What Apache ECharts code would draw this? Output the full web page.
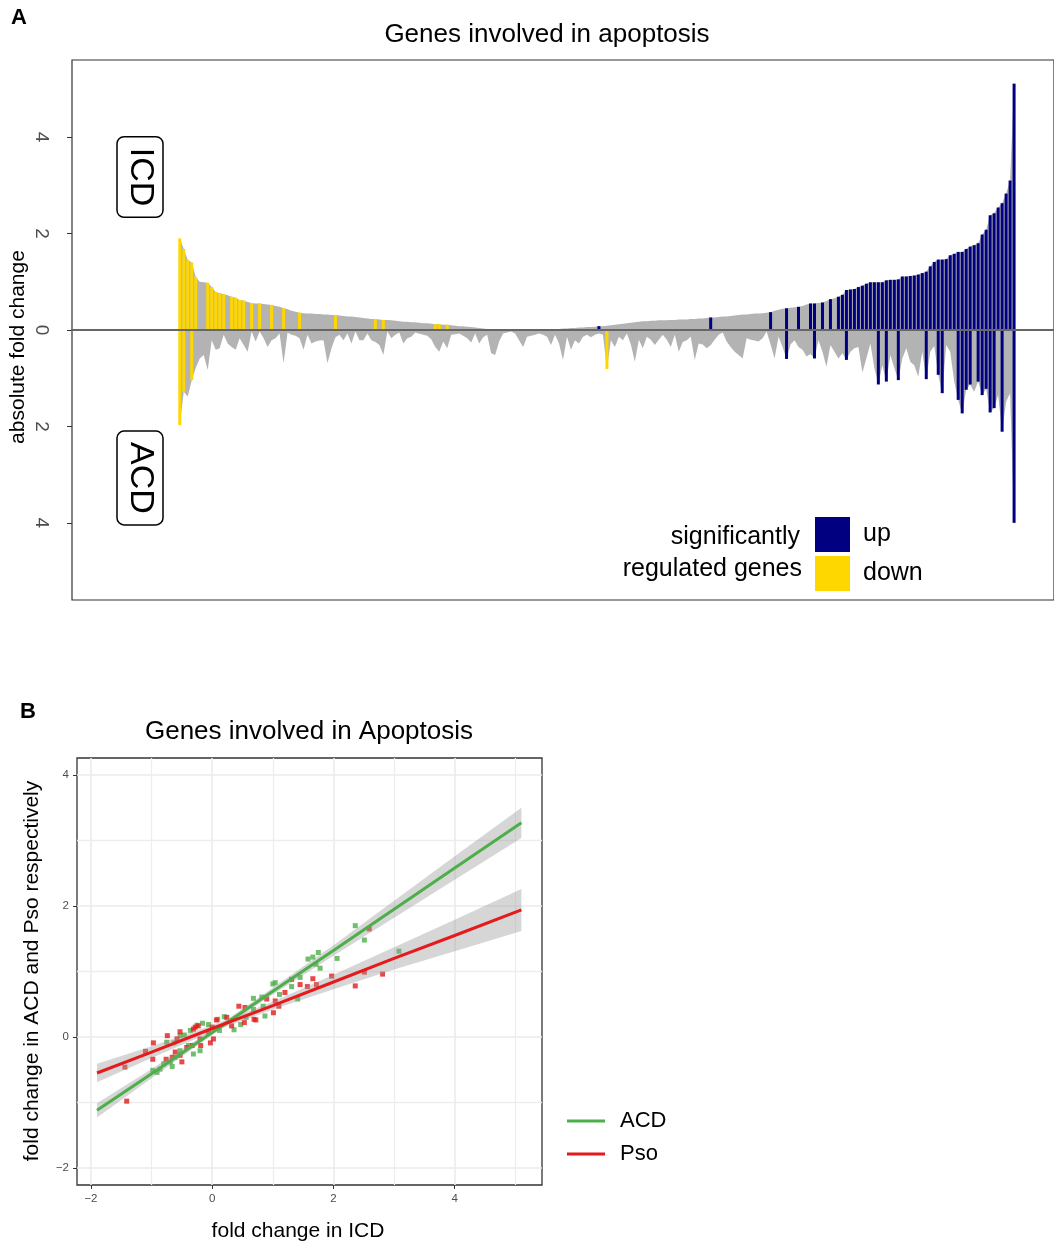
<!DOCTYPE html>
<html>
<head>
<meta charset="utf-8">
<script src="https://cdn.jsdelivr.net/npm/echarts@6/dist/echarts.min.js"></script>
<style>
  html, body { margin: 0; padding: 0; background: #fff; }
  #chart { width: 1054px; height: 1246px; }
</style>
</head>
<body>
<div id="chart"></div>
<script>
// ---- panel A : genes ordered by ICD fold change (absolute values shown) ----
var icdAbs = [
  1.90,1.68,1.45,1.40,1.10,1.00,0.99,0.98,0.89,0.79,
  0.76,0.74,0.72,0.69,0.67,0.62,0.61,0.58,0.56,0.55,
  0.55,0.54,0.53,0.52,0.50,0.48,0.45,0.43,0.40,0.38,
  0.36,0.35,0.34,0.34,0.33,0.33,0.32,0.32,0.31,0.31,
  0.30,0.29,0.28,0.28,0.27,0.26,0.25,0.24,0.23,0.23,
  0.22,0.21,0.21,0.20,0.19,
  0.18,0.17,0.17,0.16,0.16,0.15,0.14,0.14,0.13,0.12,
  0.12,0.11,0.11,0.10,0.09,0.08,0.08,0.07,0.06,0.05,
  0.04,0.03,0.02,0.02,0.01,0.01,0.01,0.01,0.01,0.01,
  0.01,0.01,0.00,0.00,0.02,0.01,0.01,0.01,0.02,0.02,
  0.02,0.03,0.03,0.04,0.04,0.05,0.05,0.06,0.06,0.07,
  0.08,0.08,0.09,0.10,0.11,0.12,0.13,
  0.14,0.15,0.16,0.17,0.18,0.18,0.19,0.19,0.20,0.20,
  0.20,0.21,0.21,0.22,0.22,0.22,0.23,0.23,0.24,0.24,
  0.25,0.26,0.26,0.27,0.28,0.28,0.29,0.30,0.31,0.32,
  0.32,0.33,0.34,0.34,0.35,0.36,0.37,0.40,0.42,0.44,
  0.45,0.46,0.47,0.48,0.50,0.53,0.55,0.55,0.56,0.57,
  0.60,0.64,0.66,0.69,0.73,
  0.83,0.84,0.85,0.89,0.92,0.96,0.99,0.99,0.99,0.99,
  1.03,1.04,1.04,1.05,1.11,1.11,1.12,1.13,1.15,1.18,
  1.21,1.32,1.41,1.46,1.46,1.47,1.55,1.58,1.62,1.62,
  1.68,1.73,1.76,1.80,1.98,2.08,2.38,2.42,2.54,2.63,
  2.83,3.10,5.11
];
var acdAbs = [
  1.97,1.28,1.38,1.04,0.79,0.59,0.52,0.83,0.21,0.41,
  0.38,0.10,0.28,0.35,0.41,0.17,0.31,0.45,0.03,0.24,
  0.03,0.17,0.35,0.21,0.17,0.07,0.69,0.05,0.10,0.12,
  0.17,0.41,0.10,0.28,0.24,0.22,0.21,0.69,0.38,0.15,
  0.10,0.21,0.07,0.28,0.03,0.21,0.21,0.07,0.21,0.25,
  0.31,0.52,0.03,0.17,0.10,
  0.05,0.28,0.17,0.14,0.05,0.08,0.10,0.12,0.19,0.35,
  0.45,0.24,0.38,0.10,0.09,0.07,0.12,0.17,0.26,0.07,
  0.28,0.15,0.10,0.48,0.52,0.24,0.07,0.05,0.03,0.07,
  0.21,0.35,0.14,0.12,0.10,0.07,0.10,0.14,0.31,0.10,
  0.28,0.62,0.14,0.41,0.21,0.28,0.14,0.10,0.15,0.10,
  0.07,0.10,0.81,0.21,0.35,0.14,0.21,
  0.07,0.30,0.66,0.20,0.38,0.14,0.20,0.31,0.20,0.10,
  0.20,0.35,0.10,0.45,0.25,0.21,0.14,0.62,0.28,0.30,
  0.38,0.31,0.20,0.10,0.05,0.24,0.35,0.45,0.52,0.59,
  0.17,0.20,0.22,0.24,0.17,0.03,0.30,0.59,0.14,0.35,
  0.60,0.30,0.21,0.35,0.41,0.55,0.50,0.59,0.21,0.45,
  0.76,0.31,0.45,0.59,0.48,
  0.62,0.45,0.38,0.35,0.88,0.59,0.28,0.79,1.13,0.73,
  1.07,0.52,0.79,1.04,0.59,0.38,0.66,0.73,0.97,0.45,
  1.02,0.45,0.33,0.93,1.31,0.31,0.45,1.07,1.45,1.73,
  1.24,1.13,1.28,1.07,1.35,1.22,1.71,1.62,1.35,2.11,
  1.49,1.31,4.00
];
// significantly regulated genes (index into the arrays above)
var icdDownIdx = [0,1,2,3,4,7,8,9,10,11,13,14,15,16,18,20,23,26,30,39,49,51,64,65,67,86];
var icdUpIdx = [89,105,133,148,152,155,158,159,161,163,165,166,
  167,168,169,170,171,172,173,174,175,176,177,178,179,180,181,182,183,184,185,186,187,188,
  189,190,191,192,193,194,195,196,197,198,199,200,201,202,203,204,205,206,207,208,209];
var acdDownIdx = [0,1,3,107];
var acdUpIdx = [152,159,167,175,177,180,187,190,191,195,196,197,198,200,201,202,203,204,206,209];
var yTicksA = [-4,-2,0,2,4];

// ---- panel B : scatter + linear fits ----
var acdPts = [
  [2.36,1.70],[2.51,1.48],[3.08,1.31],[1.58,1.19],[1.66,1.22],[1.75,1.29],[2.06,1.20],[1.78,1.05],
  [1.71,1.11],[1.45,0.91],[1.31,0.77],[1.41,0.58],[1.00,0.81],[1.04,0.83],[1.11,0.65],[0.68,0.59],
  [0.82,0.61],[0.84,0.47],[0.87,0.32],[0.68,0.42],[0.56,0.30],[0.47,0.19],[0.36,0.11],[0.20,0.31],
  [0.09,0.27],[-0.16,0.21],[-0.06,0.19],[-0.25,0.18],[-0.36,0.10],[-0.53,0.02],[-0.46,0.03],
  [-0.39,-0.13],[-0.31,-0.26],[-0.20,-0.21],[-0.63,-0.09],[-0.75,-0.08],[-0.53,-0.21],[-0.61,-0.31],
  [-0.69,-0.38],[-0.66,-0.45],[-0.86,-0.49],[-0.98,-0.51],[-0.80,-0.41],[0.12,0.10],[-0.91,-0.54]
];
var psoPts = [
  [2.59,1.65],[2.51,0.99],[2.81,0.96],[2.36,0.78],[1.97,0.93],[1.66,0.89],[1.57,0.77],[1.72,0.80],
  [1.45,0.80],[1.20,0.68],[1.31,0.88],[1.04,0.55],[1.01,0.37],[1.10,0.47],[0.90,0.58],[0.69,0.27],
  [0.72,0.26],[0.53,0.22],[0.54,0.45],[0.44,0.47],[0.24,0.30],[0.32,0.17],[0.07,0.26],[0.00,0.15],
  [-0.06,0.07],[0.02,-0.03],[-0.03,-0.09],[-0.20,-0.03],[-0.19,-0.13],[-0.31,0.12],[-0.28,0.15],
  [-0.23,0.17],[-0.53,0.08],[-0.58,-0.03],[-0.74,0.02],[-0.97,-0.09],[-1.10,-0.22],[-0.98,-0.34],
  [-0.76,-0.34],[-0.66,-0.31],[-0.61,-0.23],[-0.50,-0.38],[-0.53,-0.28],[-0.42,-0.16],[-1.41,-0.98],
  [-1.44,-0.46],[-0.33,-0.13]
];
var fitX   = [-1.9, -1, 0, 1, 2, 3, 4, 5.1];
var acdFit = [-1.12,-0.56,0.07,0.70,1.32,1.95,2.58,3.27];
var acdLo  = [-1.23,-0.63,0.03,0.65,1.24,1.82,2.40,3.04];
var acdHi  = [-1.01,-0.49,0.11,0.75,1.40,2.08,2.76,3.50];
var psoFit = [-0.55,-0.23,0.13,0.48,0.84,1.20,1.55,1.94];
var psoLo  = [-0.69,-0.32,0.08,0.42,0.73,1.03,1.31,1.62];
var psoHi  = [-0.41,-0.14,0.18,0.54,0.95,1.37,1.79,2.26];
var majorB = [-2,0,2,4];
var minorBx = [-1,1,3,5];
var minorBy = [-1,1,3];

var font = 'Liberation Sans, Arial, Helvetica, sans-serif';
var myChart = echarts.init(document.getElementById('chart'));

function barData(upper, lower) {
  var d = [];
  upper.forEach(function (i) { d.push([i, icdAbs[i]]); });
  lower.forEach(function (i) { d.push([i, -acdAbs[i]]); });
  return d;
}
function band(lo, hi) {
  return function (params, api) {
    var pts = [];
    for (var k = 0; k < fitX.length; k++) pts.push(api.coord([fitX[k], hi[k]]));
    for (var k = fitX.length - 1; k >= 0; k--) pts.push(api.coord([fitX[k], lo[k]]));
    return { type: 'polygon', shape: { points: pts }, style: { fill: 'rgba(153,153,153,0.4)' } };
  };
}
function minus(v) { return v < 0 ? '\u2212' + Math.abs(v) : String(v); }

var gridLines = [];
majorB.forEach(function (v) {
  gridLines.push({ xAxis: v, lineStyle: { color: '#ebebeb', width: 1.6, type: 'solid' } });
  gridLines.push({ yAxis: v, lineStyle: { color: '#ebebeb', width: 1.6, type: 'solid' } });
});
minorBx.forEach(function (v) { gridLines.push({ xAxis: v, lineStyle: { color: '#ededed', width: 1.3, type: 'solid' } }); });
minorBy.forEach(function (v) { gridLines.push({ yAxis: v, lineStyle: { color: '#ededed', width: 1.3, type: 'solid' } }); });

function txt(x, y, text, size, extra) {
  var s = { text: text, fontSize: size, fontFamily: font, fill: '#000', align: 'center', verticalAlign: 'middle' };
  for (var k in (extra || {})) s[k] = extra[k];
  return { type: 'text', x: x, y: y, style: s, silent: true };
}
var boxStyle = { borderColor: '#000', borderWidth: 1.5, borderRadius: 7, padding: [6, 11, 6, 11] };

myChart.setOption({
  animation: false,
  backgroundColor: '#fff',
  grid: [
    { left: 72, top: 60, width: 984, height: 540, show: true, borderColor: '#333', borderWidth: 1.2, backgroundColor: '#fff' },
    { left: 77, top: 758, width: 465, height: 427, show: true, borderColor: '#333', borderWidth: 1.3, backgroundColor: '#fff' }
  ],
  xAxis: [
    { gridIndex: 0, type: 'value', min: -27, max: 219, z: 10,
      axisLine: { show: true, onZero: true, lineStyle: { color: '#666', width: 2 } },
      axisTick: { show: false }, axisLabel: { show: false }, splitLine: { show: false } },
    { gridIndex: 1, type: 'value', min: -2.23, max: 5.44,
      axisLine: { show: false, onZero: false },
      axisTick: { show: true, customValues: majorB, length: 4, lineStyle: { color: '#333' } },
      axisLabel: { customValues: majorB, formatter: minus, color: '#4d4d4d', fontSize: 11.5, fontFamily: font, margin: 8 },
      splitLine: { show: false } }
  ],
  yAxis: [
    { gridIndex: 0, type: 'value', min: -5.6, max: 5.6,
      axisLine: { show: false, onZero: false },
      axisTick: { show: true, customValues: yTicksA, length: 5, lineStyle: { color: '#333' } },
      axisLabel: { customValues: yTicksA, rotate: -90, margin: 21, color: '#4d4d4d', fontSize: 19, fontFamily: font,
        formatter: function (v) { return String(Math.abs(v)); } },
      splitLine: { show: false } },
    { gridIndex: 1, type: 'value', min: -2.26, max: 4.26,
      axisLine: { show: false, onZero: false },
      axisTick: { show: true, customValues: majorB, length: 4, lineStyle: { color: '#333' } },
      axisLabel: { customValues: majorB, formatter: minus, color: '#4d4d4d', fontSize: 11.5, fontFamily: font, margin: 8 },
      splitLine: { show: false } }
  ],
  legend: [
    { data: [{ name: 'up', icon: 'rect' }, { name: 'down', icon: 'rect' }],
      orient: 'vertical', left: 815, top: 517, padding: 0, itemWidth: 35, itemHeight: 35, itemGap: 4,
      selectedMode: false, textStyle: { fontSize: 25, color: '#000', fontFamily: font, padding: [0, 0, 0, 8] } },
    { data: [{ name: 'ACD', icon: 'rect' }, { name: 'Pso', icon: 'rect' }],
      orient: 'vertical', left: 567, top: 1110, padding: 0, itemWidth: 38, itemHeight: 3, itemGap: 11,
      selectedMode: false, textStyle: { fontSize: 22, color: '#000', fontFamily: font, padding: [0, 0, 0, 10] } }
  ],
  series: [
    // panel A
    { name: 'icdArea', type: 'line', xAxisIndex: 0, yAxisIndex: 0, symbol: 'none', silent: true, z: 2,
      lineStyle: { width: 0 }, areaStyle: { color: '#b3b3b3', opacity: 1 },
      data: icdAbs.map(function (v, i) { return [i, v]; }) },
    { name: 'acdArea', type: 'line', xAxisIndex: 0, yAxisIndex: 0, symbol: 'none', silent: true, z: 2,
      lineStyle: { width: 0 }, areaStyle: { color: '#b3b3b3', opacity: 1 },
      data: acdAbs.map(function (v, i) { return [i, -v]; }) },
    { name: 'up', type: 'bar', xAxisIndex: 0, yAxisIndex: 0, barWidth: 3, barGap: '-100%', z: 5,
      itemStyle: { color: '#000080' }, data: barData(icdUpIdx, acdUpIdx) },
    { name: 'down', type: 'bar', xAxisIndex: 0, yAxisIndex: 0, barWidth: 3, barGap: '-100%', z: 5,
      itemStyle: { color: '#ffd700' }, data: barData(icdDownIdx, acdDownIdx) },
    // panel B
    { name: 'ACD genes', type: 'scatter', xAxisIndex: 1, yAxisIndex: 1, symbol: 'rect', symbolSize: 5,
      itemStyle: { color: '#4daf4a' }, data: acdPts,
      markLine: { silent: true, symbol: 'none', z: 1, label: { show: false }, data: gridLines } },
    { name: 'Pso genes', type: 'scatter', xAxisIndex: 1, yAxisIndex: 1, symbol: 'rect', symbolSize: 5,
      itemStyle: { color: '#e41a1c' }, data: psoPts },
    { name: 'acdBand', type: 'custom', xAxisIndex: 1, yAxisIndex: 1, silent: true, z: 3,
      renderItem: band(acdLo, acdHi), data: [[0, 0]] },
    { name: 'psoBand', type: 'custom', xAxisIndex: 1, yAxisIndex: 1, silent: true, z: 3,
      renderItem: band(psoLo, psoHi), data: [[0, 0]] },
    { name: 'ACD', type: 'line', xAxisIndex: 1, yAxisIndex: 1, symbol: 'none', z: 4,
      itemStyle: { color: '#4daf4a' }, lineStyle: { color: '#4daf4a', width: 3 },
      data: fitX.map(function (x, k) { return [x, acdFit[k]]; }) },
    { name: 'Pso', type: 'line', xAxisIndex: 1, yAxisIndex: 1, symbol: 'none', z: 4,
      itemStyle: { color: '#e41a1c' }, lineStyle: { color: '#e41a1c', width: 3 },
      data: fitX.map(function (x, k) { return [x, psoFit[k]]; }) }
  ],
  graphic: [
    txt(19, 18, 'A', 22, { fontWeight: 'bold' }),
    txt(547, 35, 'Genes involved in apoptosis', 26),
    { type: 'text', x: 18, y: 347, rotation: Math.PI / 2, silent: true,
      style: { text: 'absolute fold change', fontSize: 21, fontFamily: font, fill: '#000', align: 'center', verticalAlign: 'middle' } },
    { type: 'text', x: 140, y: 177, rotation: -Math.PI / 2, silent: true,
      style: Object.assign({ text: 'ICD', fontSize: 34, fontFamily: font, fill: '#000', align: 'center', verticalAlign: 'middle' }, boxStyle) },
    { type: 'text', x: 140, y: 478, rotation: -Math.PI / 2, silent: true,
      style: Object.assign({ text: 'ACD', fontSize: 34, fontFamily: font, fill: '#000', align: 'center', verticalAlign: 'middle' }, boxStyle) },
    txt(800, 537, 'significantly', 25, { align: 'right' }),
    txt(802, 569, 'regulated genes', 25, { align: 'right' }),
    txt(28, 712, 'B', 22, { fontWeight: 'bold' }),
    txt(309, 732, 'Genes involved in Apoptosis', 26),
    txt(298, 1231, 'fold change in ICD', 21),
    { type: 'text', x: 32, y: 971, rotation: Math.PI / 2, silent: true,
      style: { text: 'fold change in ACD and Pso respectively', fontSize: 21, fontFamily: font, fill: '#000', align: 'center', verticalAlign: 'middle' } }
  ]
});
</script>
</body>
</html>
